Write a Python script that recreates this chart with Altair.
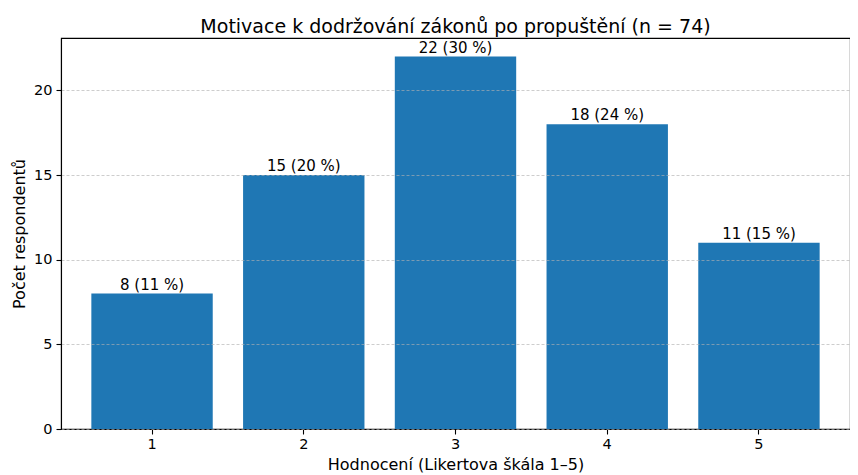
import altair as alt
import pandas as pd

categories = ["1", "2", "3", "4", "5"]
counts = [8, 15, 22, 18, 11]
percents = [11, 20, 30, 24, 15]
labels = [f"{c} ({p} %)" for c, p in zip(counts, percents)]

df = pd.DataFrame({"cat": categories, "count": counts, "label": labels})

FONT = "DejaVu Sans"

x = alt.X("cat:O", sort=categories,
          scale=alt.Scale(paddingInner=0.2, paddingOuter=0.2),
          axis=alt.Axis(title="Hodnocení (Likertova škála 1–5)", labelAngle=0,
                        labelFontSize=14.5, titleFontSize=16, titleFontWeight="normal",
                        labelFont=FONT, titleFont=FONT, labelColor="black", titleColor="black",
                        domainColor="black", tickColor="black", tickSize=5, domainWidth=1.1,
                        tickWidth=1.1, labelPadding=3, titlePadding=6))

y_axis = alt.Axis(title="Počet respondentů", values=[0, 5, 10, 15, 20],
                  labelFontSize=14.5, titleFontSize=16, titleFontWeight="normal",
                  labelFont=FONT, titleFont=FONT, labelColor="black", titleColor="black",
                  domainColor="black", tickColor="black", tickSize=5, domainWidth=1.1,
                  tickWidth=1.1, labelPadding=4, titlePadding=6,
                  grid=True, gridColor="#b0b0b0", gridDash=[3, 2], gridWidth=0.8,
                  gridOpacity=0.8, zindex=1)

bars = alt.Chart(df).mark_bar(color="#1f77b4").encode(
    x=x,
    y=alt.Y("count:Q", scale=alt.Scale(domain=[0, 23.1], nice=False, zero=True), axis=y_axis),
)

text = alt.Chart(df).mark_text(baseline="bottom", dy=-1, fontSize=15, font=FONT, color="black").encode(
    x=alt.X("cat:O", sort=categories),
    y=alt.Y("count:Q"),
    text="label:N",
)

chart = alt.layer(bars, text).properties(
    width=789,
    height=391,
    title=alt.Title("Motivace k dodržování zákonů po propuštění (n = 74)",
                    fontSize=19, font=FONT, fontWeight="normal", color="black", offset=4, dy=3),
    autosize=alt.AutoSizeParams(type="none"),
    padding={"left": 53, "top": 30, "right": 0, "bottom": 52},
).configure_view(stroke="black", strokeWidth=1.1)

chart.save("out.html", embed_options={"renderer": "svg", "actions": False})
